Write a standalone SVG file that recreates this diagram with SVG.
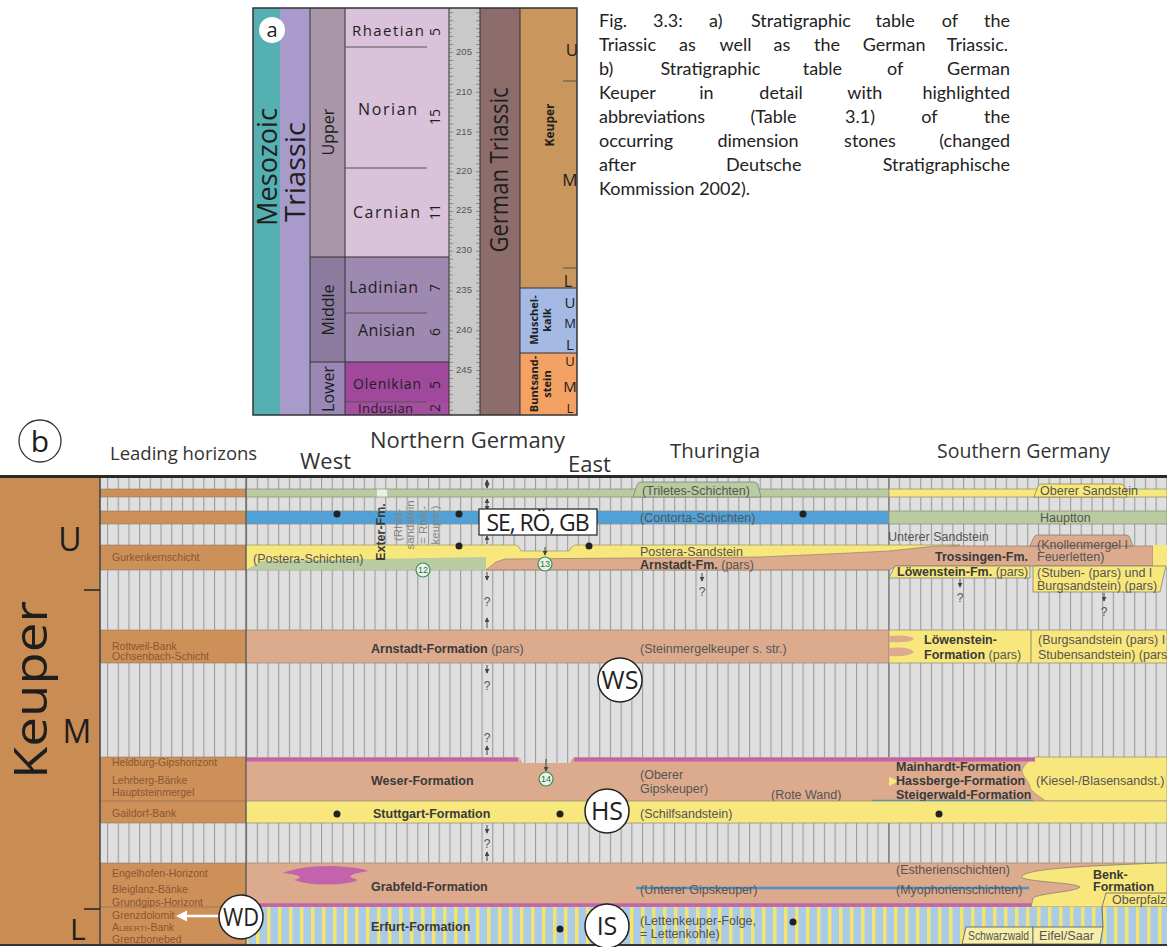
<svg xmlns="http://www.w3.org/2000/svg" width="1167" height="947" viewBox="0 0 1167 947">
<defs>
<pattern id="gs" patternUnits="userSpaceOnUse" x="0" y="0" width="10.7" height="20">
<rect width="10.7" height="20" fill="#dfdfdf"/>
<rect width="1.1" height="20" fill="#9c9c9c"/>
</pattern>
<pattern id="erf" patternUnits="userSpaceOnUse" x="0" y="0" width="11" height="20">
<rect width="11" height="20" fill="#a9cbe8"/>
<rect x="3" width="3.5" height="20" fill="#f4e36c"/>
</pattern>
<pattern id="tk" patternUnits="userSpaceOnUse" x="449" y="52" width="31" height="7.95">
<rect x="0" y="0" width="4" height="0.8" fill="#777"/>
<rect x="0" y="3.97" width="2.5" height="0.7" fill="#888"/>
<rect x="27" y="0" width="4" height="0.8" fill="#777"/>
<rect x="28.5" y="3.97" width="2.5" height="0.7" fill="#888"/>
</pattern>
<marker id="ah" viewBox="0 0 6 6" refX="5" refY="3" markerWidth="5" markerHeight="5" orient="auto-start-reverse">
<path d="M0,0 L6,3 L0,6 Z" fill="#444"/>
</marker>
</defs>
<style>
.cap{font-family:Lato,"Open Sans","Liberation Sans",sans-serif;font-size:18px;fill:#222}
.hd{font-family:"Open Sans","Liberation Sans",sans-serif;fill:#333}
.sa{font-family:"Open Sans","Liberation Sans",sans-serif;fill:#1e1e1e}
.t{font-family:"Liberation Sans",Arial,sans-serif;font-size:12.5px;fill:#555}
.b{font-weight:bold;fill:#3a3a3a}
.lh{font-family:"Liberation Sans Narrow","Arial Narrow","Liberation Sans",sans-serif;font-size:10.5px;fill:#8a5630}
.q{font-family:"Liberation Sans",Arial,sans-serif;font-size:12px;fill:#555;text-anchor:middle}
.circ{fill:#fff;stroke:#222;stroke-width:1.5}
.ct{font-family:"Open Sans","Liberation Sans",sans-serif;font-size:25px;fill:#222;text-anchor:middle}
.num{fill:#e8f3e6;stroke:#3d8a58;stroke-width:1.2}
.numt{font-family:"Liberation Sans",Arial,sans-serif;font-size:9px;fill:#2f6e40;text-anchor:middle}
.dot{fill:#222}
.arr{stroke:#444;stroke-width:1;fill:none}
.bd{stroke:#333;stroke-width:1;fill:none}
.band{stroke:#8a8a7a;stroke-width:0.7}
.e{text-anchor:end}
</style>

<!-- ============ PART A ============ -->
<g id="table-a">
<rect x="253" y="8" width="27" height="407" fill="#55b0b2"/>
<rect x="280" y="8" width="30" height="407" fill="#a89bcc"/>
<rect x="310" y="8" width="35" height="249" fill="#a996a8"/>
<rect x="310" y="257" width="35" height="105" fill="#8d7b9f"/>
<rect x="310" y="362" width="35" height="53" fill="#9a87b6"/>
<rect x="345" y="8" width="104" height="249" fill="#dbc2db"/>
<rect x="345" y="257" width="104" height="105" fill="#9e89b1"/>
<rect x="345" y="362" width="104" height="40" fill="#a0499c"/>
<rect x="345" y="402" width="104" height="13" fill="#a44ea0"/>
<rect x="449" y="8" width="31" height="407" fill="#c9c9c9"/>
<rect x="449" y="8" width="31" height="407" fill="url(#tk)"/>
<rect x="480" y="8" width="40" height="407" fill="#8d6d6b"/>
<rect x="520" y="8" width="57" height="280" fill="#c9975d"/>
<rect x="520" y="288" width="57" height="65" fill="#a4b9e4"/>
<rect x="520" y="353" width="57" height="62" fill="#f4a164"/>
<path class="bd" d="M310,8V415 M345,8V415 M449,8V415 M480,8V415 M520,8V415 M310,257H449 M310,362H449 M520,288H577 M520,353H577"/>
<path d="M345,47H427 M345,168H427 M345,313H427 M345,402H427 M563,81H577 M563,268H577" stroke="#555" stroke-width="1" fill="none"/>
<rect x="253" y="8" width="324" height="407" fill="none" stroke="#333" stroke-width="1.5"/>

<circle cx="272" cy="30" r="13" fill="#fff"/>
<text class="sa" x="272" y="37" font-size="20" text-anchor="middle">a</text>
<text class="sa" transform="translate(277,167) rotate(-90)" font-size="27" text-anchor="middle" textLength="118" lengthAdjust="spacingAndGlyphs">Mesozoic</text>
<text class="sa" transform="translate(305,172) rotate(-90)" font-size="27" text-anchor="middle" textLength="100" lengthAdjust="spacingAndGlyphs">Triassic</text>
<text class="sa" transform="translate(334,132) rotate(-90)" font-size="16" text-anchor="middle">Upper</text>
<text class="sa" transform="translate(334,310) rotate(-90)" font-size="16" text-anchor="middle">Middle</text>
<text class="sa" transform="translate(334,389) rotate(-90)" font-size="16" text-anchor="middle">Lower</text>

<text class="sa" x="352" y="36" font-size="15" textLength="72">Rhaetian</text>
<text class="sa" x="358" y="115" font-size="16" textLength="59">Norian</text>
<text class="sa" x="353" y="218" font-size="16" textLength="67">Carnian</text>
<text class="sa" x="349" y="293" font-size="16" textLength="69">Ladinian</text>
<text class="sa" x="358" y="336" font-size="16" textLength="57">Anisian</text>
<text class="sa" x="353" y="389" font-size="14" textLength="68">Olenikian</text>
<text class="sa" x="358" y="413" font-size="13" textLength="55">Indusian</text>

<text class="sa" transform="translate(440,32) rotate(-90)" font-size="14" text-anchor="middle">5</text>
<text class="sa" transform="translate(440,117) rotate(-90)" font-size="14" text-anchor="middle">15</text>
<text class="sa" transform="translate(440,212) rotate(-90)" font-size="14" text-anchor="middle">11</text>
<text class="sa" transform="translate(440,288) rotate(-90)" font-size="14" text-anchor="middle">7</text>
<text class="sa" transform="translate(440,332) rotate(-90)" font-size="14" text-anchor="middle">6</text>
<text class="sa" transform="translate(440,385) rotate(-90)" font-size="14" text-anchor="middle">5</text>
<text class="sa" transform="translate(440,408) rotate(-90)" font-size="14" text-anchor="middle">2</text>

<g font-family="Liberation Sans, Arial, sans-serif" font-size="9.5" fill="#555" text-anchor="middle">
<text x="464" y="55">205</text>
<text x="464" y="95">210</text>
<text x="464" y="135">215</text>
<text x="464" y="174">220</text>
<text x="464" y="213">225</text>
<text x="464" y="253">230</text>
<text x="464" y="293">235</text>
<text x="464" y="333">240</text>
<text x="464" y="373">245</text>
</g>
<text class="sa" transform="translate(508,170) rotate(-90)" font-size="25" text-anchor="middle" textLength="165" lengthAdjust="spacingAndGlyphs">German Triassic</text>
<text class="sa" transform="translate(554,125) rotate(-90)" font-size="12" font-weight="bold" text-anchor="middle">Keuper</text>
<text class="sa" x="572" y="56" font-size="17" text-anchor="middle">U</text>
<text class="sa" x="570" y="186" font-size="17" text-anchor="middle">M</text>
<text class="sa" x="568" y="287" font-size="16" text-anchor="middle">L</text>
<text class="sa" transform="translate(538,320) rotate(-90)" font-size="11" font-weight="bold" text-anchor="middle">Muschel-</text>
<text class="sa" transform="translate(551,320) rotate(-90)" font-size="11" font-weight="bold" text-anchor="middle">kalk</text>
<text class="sa" x="570" y="308" font-size="15" text-anchor="middle">U</text>
<text class="sa" x="570" y="328" font-size="13" text-anchor="middle">M</text>
<text class="sa" x="570" y="350" font-size="15" text-anchor="middle">L</text>
<text class="sa" transform="translate(538,384) rotate(-90)" font-size="11" font-weight="bold" text-anchor="middle">Buntsand-</text>
<text class="sa" transform="translate(551,384) rotate(-90)" font-size="11" font-weight="bold" text-anchor="middle">stein</text>
<text class="sa" x="570" y="366" font-size="13" text-anchor="middle">U</text>
<text class="sa" x="570" y="392" font-size="15" text-anchor="middle">M</text>
<text class="sa" x="570" y="413" font-size="13" text-anchor="middle">L</text>
</g>

<!-- ============ CAPTION ============ -->
<g id="caption">
<text class="cap" y="27"><tspan x="599">Fig.</tspan><tspan x="653">3.3:</tspan><tspan x="709">a)</tspan><tspan x="751">Stratigraphic</tspan><tspan x="875.5">table</tspan><tspan x="941.7">of</tspan><tspan class="e" x="1010">the</tspan></text>
<text class="cap" y="51"><tspan x="599">Triassic</tspan><tspan x="679">as</tspan><tspan x="719.5">well</tspan><tspan x="773.5">as</tspan><tspan x="814">the</tspan><tspan x="862.7">German</tspan><tspan class="e" x="1008">Triassic.</tspan></text>
<text class="cap" y="75"><tspan x="599">b)</tspan><tspan x="660.4">Stratigraphic</tspan><tspan x="802.8">table</tspan><tspan x="887.1">of</tspan><tspan class="e" x="1010">German</tspan></text>
<text class="cap" y="99"><tspan x="599">Keuper</tspan><tspan x="699.2">in</tspan><tspan x="759.3">detail</tspan><tspan x="847.3">with</tspan><tspan class="e" x="1010">highlighted</tspan></text>
<text class="cap" y="123"><tspan x="599">abbreviations</tspan><tspan x="750.4">(Table</tspan><tspan x="845">3.1)</tspan><tspan x="921.3">of</tspan><tspan class="e" x="1010">the</tspan></text>
<text class="cap" y="147"><tspan x="599">occurring</tspan><tspan x="717.4">dimension</tspan><tspan x="844.1">stones</tspan><tspan class="e" x="1010">(changed</tspan></text>
<text class="cap" y="171"><tspan x="599">after</tspan><tspan x="725.9">Deutsche</tspan><tspan class="e" x="1010">Stratigraphische</tspan></text>
<text class="cap" x="599" y="195">Kommission 2002).</text>
</g>

<!-- ============ HEADER B ============ -->
<g id="header-b">
<circle cx="40" cy="441" r="21" fill="#fff" stroke="#333" stroke-width="1.3"/>
<text class="sa" x="40" y="452" font-size="30" text-anchor="middle">b</text>
<text class="hd" x="110" y="460" font-size="18.5">Leading horizons</text>
<text class="hd" x="370" y="448" font-size="22">Northern Germany</text>
<text class="hd" x="300" y="469" font-size="22">West</text>
<text class="hd" x="568" y="472" font-size="22">East</text>
<text class="hd" x="670" y="458" font-size="20.5">Thuringia</text>
<text class="hd" x="937" y="458" font-size="19.5">Southern Germany</text>
</g>

<!-- ============ TABLE B BACKGROUND ============ -->
<g id="table-b-bg">
<rect x="100" y="478" width="1067" height="466" fill="url(#gs)"/>
<line x1="889" y1="478" x2="889" y2="944" stroke="#777" stroke-width="1.2"/>
<rect x="0" y="478" width="100" height="467" fill="#c98d53"/>
</g>

<!-- Leading horizons column -->
<g id="leading-horizons" class="lh">
<g fill="#ce9059" stroke="#8a7a6a" stroke-width="0.6">
<rect x="100" y="489" width="146" height="8"/>
<rect x="100" y="511" width="146" height="13"/>
<rect x="100" y="545" width="146" height="25"/>
<rect x="100" y="630" width="146" height="33"/>
<rect x="100" y="757" width="146" height="66"/>
<rect x="100" y="863" width="146" height="81"/>
</g>
<path d="M100,801H246 M100,907H246" stroke="#8a6a50" stroke-width="0.7"/>
<text x="112" y="561">Gurkenkernschicht</text>
<text x="112" y="650">Rottweil-Bank</text>
<text x="112" y="660">Ochsenbach-Schicht</text>
<text x="112" y="766">Heldburg-Gipshorizont</text>
<text x="112" y="784">Lehrberg-Bänke</text>
<text x="112" y="796">Hauptsteinmergel</text>
<text x="112" y="817">Gaildorf-Bank</text>
<text x="112" y="877">Engelhofen-Horizont</text>
<text x="112" y="893">Bleiglanz-Bänke</text>
<text x="112" y="906">Grundgips-Horizont</text>
<text x="112" y="919">Grenzdolomit</text>
<text x="112" y="931">A<tspan font-size="8">LBERTI</tspan>-Bank</text>
<text x="112" y="943">Grenzbonebed</text>
</g>

<!-- ============ FORMATIONS ============ -->
<g id="row-triletes">
<rect class="band" x="246" y="489" width="643" height="8" fill="#b9cba0"/>
<rect x="377" y="489.5" width="10" height="7" fill="#e9efe2"/>
<rect class="band" x="889" y="489" width="278" height="8" fill="#f8e77c"/>
<path d="M633,497 L637,485 Q638,482 641,482 L754,482 Q757,482 758,485 L761,497 Z" fill="#b9cba0" stroke="#777" stroke-width="0.7"/>
<text class="t" x="642" y="494.5" fill="#4c5a3a">(Triletes-Schichten)</text>
<path d="M1034,497 L1038,486 Q1039,484 1042,484 L1120,484 Q1123,484 1124,486 L1127,497 Z" fill="#f8e77c" stroke="#8a7a30" stroke-width="0.7"/>
<text class="t" x="1040" y="495" font-size="10.5" fill="#8b6d10">Oberer Sandstein</text>
</g>

<g id="row-contorta">
<rect class="band" x="246" y="511" width="643" height="13" fill="#4fa1d8"/>
<rect class="band" x="889" y="511" width="278" height="13" fill="#b9cba0"/>
<text class="t" x="640" y="522" fill="#27507e">(Contorta-Schichten)</text>
<text class="t" x="1040" y="522" fill="#4d5a3c">Hauptton</text>
<text class="t" x="888" y="541" font-size="10.5">Unterer Sandstein</text>
</g>

<g id="row-postera">
<path d="M246,545 L515,545 Q519,545 520,549 L521,551 L569,551 Q571,546 575,545 L960,545 L900,551 L889,553 L889,570 L246,570 Z" fill="#f8e77c" stroke="#8a8a5a" stroke-width="0.6"/>
<path d="M246,570 L262,561 L486,557 L486,570 Z" fill="#b9cba0"/>
<path d="M486,570 L496,562 L505,559 L760,557 L850,553 L889,551 L935,546 L1153,546 L1153,566 L897,566 L889,570 Z" fill="#dcab8e" stroke="#8a7060" stroke-width="0.6"/>
<path d="M1030,546 L1034,537 Q1035,535 1038,535 L1126,535 Q1129,535 1130,538 L1133,546 Z" fill="#dcab8e" stroke="#777" stroke-width="0.7"/>
<rect x="1153" y="545" width="14" height="22" fill="#f8e77c"/>
<path d="M889,578 L895,566 L1030,566 L1030,578 Z" fill="#f8e77c" stroke="#777" stroke-width="0.7"/>
<path d="M1033,566 L1166,566 L1160,592 L1033,592 Z" fill="#f8e77c" stroke="#777" stroke-width="0.7"/>
<text class="t" x="253" y="563">(Postera-Schichten)</text>
<text class="t" x="640" y="556" font-size="12" fill="#7a6514">Postera-Sandstein</text>
<text class="t" x="640" y="569" font-size="12"><tspan class="b">Arnstadt-Fm.</tspan> (pars)</text>
<text class="t b" x="935" y="561" font-size="13">Trossingen-Fm.</text>
<text class="t" x="1037" y="549" font-size="12">(Knollenmergel I</text>
<text class="t" x="1037" y="561" font-size="12">Feuerletten)</text>
<text class="t" x="897" y="576"><tspan class="b">Löwenstein-Fm.</tspan> (pars)</text>
<text class="t" x="1037" y="577">(Stuben- (pars) und I</text>
<text class="t" x="1037" y="590">Burgsandstein) (pars)</text>
</g>

<g id="exter">
<text class="t b" transform="translate(385,532) rotate(-90)" font-size="13" fill="#222" text-anchor="middle">Exter-Fm.</text>
<g font-family="Liberation Sans, Arial, sans-serif" font-size="11.5" fill="#858585" text-anchor="middle">
<text transform="translate(402,525) rotate(-90)">(Rhät-</text>
<text transform="translate(414,525) rotate(-90)">sandstein</text>
<text transform="translate(427,525) rotate(-90)">= Rhät-</text>
<text transform="translate(439,525) rotate(-90)">keuper)</text>
</g>
</g>

<g id="row-arnstadt">
<rect class="band" x="246" y="630" width="643" height="33" fill="#dcab8e"/>
<rect class="band" x="889" y="630" width="278" height="33" fill="#f8e77c"/>
<path d="M889,636 Q910,634 914,639 Q910,643 889,642 Z M889,648 Q910,646 914,652 Q910,657 889,656 Z" fill="#dcab8e"/>
<line x1="1031" y1="630" x2="1031" y2="663" stroke="#777" stroke-width="0.8"/>
<text class="t" x="371" y="653"><tspan class="b">Arnstadt-Formation</tspan> (pars)</text>
<text class="t" x="640" y="653">(Steinmergelkeuper s. str.)</text>
<text class="t b" x="924" y="644">Löwenstein-</text>
<text class="t" x="924" y="659"><tspan class="b">Formation</tspan> (pars)</text>
<text class="t" x="1038" y="644">(Burgsandstein (pars) I</text>
<text class="t" x="1038" y="659">Stubensandstein) (pars</text>
</g>

<g id="row-weser">
<path d="M246,757 L517,757 Q520,757 521,760 L522,763 L570,763 Q571,758 575,757 L1167,757 L1167,801 L246,801 Z" fill="#dcab8e"/>
<path d="M1035,757 L1167,757 L1167,801 L1046,801 C1040,797 1030,791 1030,787 C1030,783 1024,778 1022,772 C1022,765 1030,760 1035,757 Z" fill="#f8e77c" stroke="#8a8060" stroke-width="0.6"/>
<path d="M889,777 L899,781 L889,786 Z" fill="#f8e77c"/>
<path d="M246,759.5H518 M574,759.5H1035" stroke="#c462ac" stroke-width="4" fill="none"/>
<line x1="872" y1="801" x2="1033" y2="801" stroke="#4a92c8" stroke-width="2.5"/>
<text class="t b" x="371" y="785">Weser-Formation</text>
<text class="t" x="640" y="779">(Oberer</text>
<text class="t" x="640" y="793">Gipskeuper)</text>
<text class="t" x="771" y="799">(Rote Wand)</text>
<text class="t b" x="896" y="771">Mainhardt-Formation</text>
<text class="t b" x="896" y="785">Hassberge-Formation</text>
<text class="t" x="1036" y="785" font-size="11.5">(Kiesel-/Blasensandst.)</text>
<text class="t b" x="896" y="799">Steigerwald-Formation</text>
</g>

<g id="row-stuttgart">
<rect class="band" x="246" y="801" width="921" height="22" fill="#f8e77c"/>
<text class="t b" x="373" y="818">Stuttgart-Formation</text>
<text class="t" x="640" y="818">(Schilfsandstein)</text>
</g>

<g id="row-grabfeld">
<rect class="band" x="246" y="863" width="921" height="44" fill="#dcab8e"/>
<path d="M1167,863 L1160,863 C1090,866 1030,868 1022,876 C1018,882 1075,882 1080,887 C1075,892 1040,893 1033,898 L1031,907 L1167,907 Z" fill="#f8e77c" stroke="#777" stroke-width="0.7"/>
<path d="M283,873 Q300,866 330,866 Q360,867 368,871 Q345,875 352,878 Q366,881 340,884 Q310,886 294,880 Q310,876 283,873 Z" fill="#c462ac"/>
<line x1="636" y1="888" x2="1029" y2="888" stroke="#4a92c8" stroke-width="2.5"/>
<line x1="246" y1="905" x2="1031" y2="905" stroke="#c462ac" stroke-width="3.5"/>
<path d="M1106,893 L1167,893 L1167,907 L1102,907 Z" fill="#f8e77c" stroke="#666" stroke-width="0.8"/>
<text class="t b" x="371" y="891">Grabfeld-Formation</text>
<text class="t" x="640" y="894">(Unterer Gipskeuper)</text>
<text class="t" x="896" y="874">(Estherienschichten)</text>
<text class="t" x="896" y="894">(Myophorienschichten)</text>
<text class="t b" x="1093" y="879">Benk-</text>
<text class="t b" x="1093" y="891">Formation</text>
<text class="t" x="1112" y="904" font-size="11">Oberpfalz</text>
</g>

<g id="row-erfurt">
<rect x="246" y="907" width="921" height="37" fill="url(#erf)"/>
<path d="M966,927 L1033,927 L1033,944 L962,944 Z" fill="#f6eeaa" stroke="#555" stroke-width="0.8"/>
<path d="M1033,927 L1103,927 L1100,944 L1033,944 Z" fill="#f6eeaa" stroke="#555" stroke-width="0.8"/>
<line x1="1102" y1="907" x2="1103" y2="927" stroke="#555" stroke-width="0.8"/>
<text class="t b" x="371" y="931">Erfurt-Formation</text>
<text class="t" x="640" y="925">(Lettenkeuper-Folge,</text>
<text class="t" x="640" y="938">= Lettenkohle)</text>
<text class="t" x="968" y="940" font-size="10.5" fill="#444" textLength="61" lengthAdjust="spacingAndGlyphs">Schwarzwald</text>
<text class="t" x="1039" y="940" font-size="10.5" fill="#444" textLength="55" lengthAdjust="spacingAndGlyphs">Eifel/Saar</text>
</g>

<!-- frame lines -->
<g id="frame">
<line x1="0" y1="476.5" x2="1167" y2="476.5" stroke="#2a2a2a" stroke-width="3"/>
<line x1="0" y1="945" x2="1167" y2="945" stroke="#333" stroke-width="2"/>
<line x1="100" y1="478" x2="100" y2="944" stroke="#444" stroke-width="1.5"/>
<line x1="246" y1="478" x2="246" y2="944" stroke="#555" stroke-width="1.2"/>
<path d="M84,590H100 M84,909H100" stroke="#222" stroke-width="1.3"/>
<text class="sa" transform="translate(47,690) rotate(-90)" font-size="46" text-anchor="middle" textLength="178" lengthAdjust="spacingAndGlyphs">Keuper</text>
<text class="sa" x="70" y="551" font-size="32" text-anchor="middle">U</text>
<text class="sa" x="77" y="743" font-size="32" text-anchor="middle">M</text>
<text class="sa" x="70" y="940" font-size="30">L</text>
</g>

<!-- ============ CONNECTORS / MARKS ============ -->
<g id="connectors">
<g class="arr">
<line x1="487" y1="480" x2="487" y2="488" marker-start="url(#ah)" marker-end="url(#ah)"/>
<line x1="487" y1="499" x2="487" y2="510" marker-start="url(#ah)" marker-end="url(#ah)"/>
<line x1="487" y1="536" x2="487" y2="544" marker-start="url(#ah)"/>
<line x1="487" y1="572" x2="487" y2="580" marker-end="url(#ah)"/>
<line x1="487" y1="618" x2="487" y2="628" marker-start="url(#ah)"/>
<line x1="487" y1="665" x2="487" y2="673" marker-end="url(#ah)"/>
<line x1="487" y1="746" x2="487" y2="755" marker-start="url(#ah)"/>
<line x1="487" y1="825" x2="487" y2="833" marker-end="url(#ah)"/>
<line x1="487" y1="852" x2="487" y2="861" marker-start="url(#ah)"/>
<line x1="545" y1="547" x2="545" y2="555" marker-end="url(#ah)"/>
<line x1="546" y1="759" x2="546" y2="771" marker-end="url(#ah)"/>
<line x1="702" y1="573" x2="702" y2="581" marker-end="url(#ah)"/>
<line x1="960" y1="579" x2="960" y2="587" marker-end="url(#ah)"/>
<line x1="1104" y1="593" x2="1104" y2="601" marker-end="url(#ah)"/>
</g>
<text class="q" x="487" y="606">?</text>
<text class="q" x="487" y="690">?</text>
<text class="q" x="487" y="742">?</text>
<text class="q" x="487" y="848">?</text>
<text class="q" x="702" y="596">?</text>
<text class="q" x="960" y="602">?</text>
<text class="q" x="1104" y="616">?</text>
<line x1="218" y1="916" x2="186" y2="916" stroke="#fff" stroke-width="2.5"/>
<path d="M176,916 L187,910.5 L187,921.5 Z" fill="#fff"/>
</g>

<g id="dots">
<circle class="dot" cx="337" cy="514" r="3.5"/>
<circle class="dot" cx="459" cy="514" r="3.5"/>
<circle class="dot" cx="803" cy="514" r="3.5"/>
<circle class="dot" cx="459" cy="546" r="3.5"/>
<circle class="dot" cx="589" cy="546" r="3.5"/>
<circle class="dot" cx="337" cy="814" r="3.5"/>
<circle class="dot" cx="560" cy="814" r="3.5"/>
<circle class="dot" cx="939" cy="814" r="3.5"/>
<circle class="dot" cx="560" cy="929" r="3.5"/>
<circle class="dot" cx="793" cy="922" r="3.5"/>
</g>

<g id="num-12"><circle class="num" cx="423" cy="570" r="7"/><text class="numt" x="423" y="573">12</text></g>
<g id="num-13"><circle class="num" cx="545" cy="564" r="7"/><text class="numt" x="545" y="567">13</text></g>
<g id="num-14"><circle class="num" cx="546" cy="779" r="7"/><text class="numt" x="546" y="782">14</text></g>

<g id="node-se-ro-gb">
<rect x="479" y="509" width="118" height="26" fill="#fff" stroke="#222" stroke-width="1.2"/>
<text class="sa" x="538" y="531" font-size="23" text-anchor="middle" textLength="103">SE, RÖ, GB</text>
</g>
<g id="node-ws"><circle class="circ" cx="620" cy="680" r="22"/><text class="ct" x="620" y="689">WS</text></g>
<g id="node-hs"><circle class="circ" cx="607" cy="811" r="22"/><text class="ct" x="607" y="820">HS</text></g>
<g id="node-is"><circle class="circ" cx="607" cy="926" r="22"/><text class="ct" x="607" y="935">IS</text></g>
<g id="node-wd"><circle class="circ" cx="241" cy="917" r="22"/><text class="ct" x="241" y="926" textLength="36" lengthAdjust="spacingAndGlyphs">WD</text></g>
</svg>
